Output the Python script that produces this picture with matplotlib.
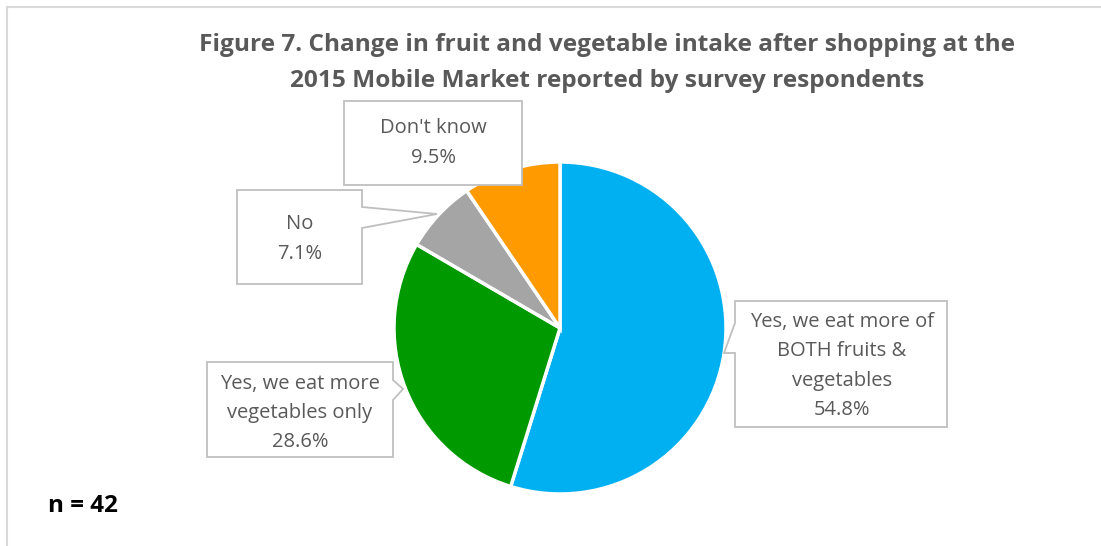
import matplotlib.pyplot as plt
from matplotlib.patches import Polygon

# data
labels = ["Yes, we eat more of\nBOTH fruits &\nvegetables",
          "Yes, we eat more\nvegetables only",
          "No",
          "Don't know"]
shares = [54.8, 28.6, 7.1, 9.5]
colors = ["#00B0F0", "#009A00", "#A5A5A5", "#FF9A00"]
title = "Figure 7. Change in fruit and vegetable intake after shopping at the\n2015 Mobile Market reported by survey respondents"
n_note = "n = 42"

W, H = 1101, 546
FONT = "Open Sans"
TXT = "#595959"


def Y(y):
    return H - y


fig = plt.figure(figsize=(W / 100, H / 100), dpi=100)
ax = fig.add_axes([0, 0, 1, 1])

ax.pie(shares, colors=colors, startangle=90, counterclock=False,
       center=(560, Y(328)), radius=166,
       wedgeprops=dict(edgecolor="white", linewidth=2.5))
ax.set_xlim(0, W)
ax.set_ylim(0, H)
ax.set_aspect("equal")
ax.axis("off")

# callout boxes (outline incl. pointer), pixel coords of the layout
boxes = [
    # blue: pointer on left edge
    [(735, 301), (947, 301), (947, 427), (735, 427), (735, 353), (724, 353), (735, 323)],
    # green: pointer on right edge
    [(207, 362), (393, 362), (393, 380), (403, 389), (393, 400), (393, 457), (207, 457)],
    # gray: pointer on right edge
    [(237, 190), (362, 190), (362, 207), (437, 214), (362, 228), (362, 284), (237, 284)],
    # orange: plain box
    [(344, 101), (522, 101), (522, 185), (344, 185)],
]
centers = [(842, 366), (300, 413), (300, 239), (433, 143)]

for verts, (cx, cy), lab, val in zip(boxes, centers, labels, shares):
    poly = Polygon([(x, Y(y)) for x, y in verts], closed=True,
                   facecolor="white", edgecolor="#BFBFBF", linewidth=1.3, zorder=3)
    ax.add_patch(poly)
    ax.text(cx, Y(cy), f"{lab}\n{val:.1f}%", ha="center", va="center",
            fontsize=14.5, color=TXT, family=FONT, linespacing=1.62, zorder=4)

fig.text(607 / W, 1 - 63 / H, title, ha="center", va="center", fontsize=17.6,
         fontweight="bold", color=TXT, family=FONT, linespacing=1.65)
fig.text(48 / W, 1 - 506 / H, n_note, ha="left", va="center", fontsize=17.5,
         fontweight="bold", color="black", family=FONT)

# chart area border (top and left visible)
ax.plot([7, W], [Y(7), Y(7)], color="#D9D9D9", lw=1.5, clip_on=False)
ax.plot([7, 7], [Y(7), 0], color="#D9D9D9", lw=1.5, clip_on=False)

fig.savefig("out.png", dpi=100)
